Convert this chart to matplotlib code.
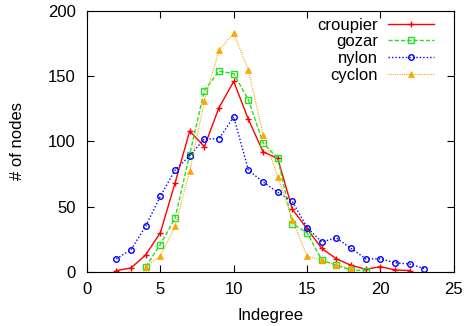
import matplotlib
matplotlib.use('Agg')
import matplotlib.pyplot as plt

plt.rcParams['font.family'] = ['Liberation Sans', 'DejaVu Sans']

# indegree distribution per system
croupier_x = [2, 3, 4, 5, 6, 7, 8, 9, 10, 11, 12, 13, 14, 15, 16, 17, 18, 19, 20, 21, 22]
croupier_y = [1, 3, 13, 30, 68, 108, 96, 126, 146, 117, 92, 87, 48, 33, 18, 10, 5, 2, 4, 1.5, 1]

gozar_x = [4, 5, 6, 7, 8, 9, 10, 11, 12, 13, 14, 15, 16, 17, 18, 19]
gozar_y = [4, 21, 41, 90, 139, 154, 152, 132, 99, 87, 37, 30, 9, 5, 1.5, 1]

nylon_x = [2, 3, 4, 5, 6, 7, 8, 9, 10, 11, 12, 13, 14, 15, 16, 17, 18, 19, 20, 21, 22, 23]
nylon_y = [10, 17, 35, 58, 78, 89, 102, 102, 119, 78, 69, 61, 54, 34, 23, 26, 18, 10, 10, 7, 6, 2.5]

cyclon_x = [4, 5, 6, 7, 8, 9, 10, 11, 12, 13, 14, 15, 16, 17, 18]
cyclon_y = [4, 12, 35, 77, 131, 170, 183, 155, 105, 73, 40, 12, 9, 5, 3]

fig = plt.figure(figsize=(4.65, 3.26), dpi=100)
ax = fig.add_axes([0.187, 0.166, 0.789, 0.8])

ax.plot(croupier_x, croupier_y, color='#ff0000', linestyle='-', linewidth=1.0,
        marker='+', markersize=5, markeredgewidth=1.0, label='croupier')
ax.plot(gozar_x, gozar_y, color='#22e022', linestyle=(0, (3, 1.5)), linewidth=1.0,
        marker='s', markersize=4, markerfacecolor='none', markeredgewidth=1.0, label='gozar')
ax.plot(nylon_x, nylon_y, color='#0000ff', linestyle=(0, (1, 1.5)), linewidth=1.0,
        marker='o', markersize=4, markerfacecolor='none', markeredgewidth=1.0, label='nylon')
ax.plot(cyclon_x, cyclon_y, color='#ffa500', linestyle=(0, (1, 1)), linewidth=0.8,
        marker='^', markersize=4.5, markeredgewidth=0.5, label='cyclon')

ax.set_xlim(0, 25)
ax.set_ylim(0, 200)
ax.set_xticks([0, 5, 10, 15, 20, 25])
ax.set_yticks([0, 50, 100, 150, 200])
ax.tick_params(direction='in', top=True, right=True, length=5, labelsize=12)
ax.tick_params(axis='x', pad=7)
ax.tick_params(axis='y', pad=8)
ax.set_xlabel('Indegree', fontsize=12)
ax.set_ylabel('# of nodes', fontsize=12)
ax.xaxis.set_label_coords(0.5, -0.138)
ax.yaxis.set_label_coords(-0.17, 0.5)

ax.legend(loc='upper right', bbox_to_anchor=(0.9455, 0.975), markerfirst=False,
          frameon=False, fontsize=12, handlelength=2.75, labelspacing=0.1,
          borderpad=0.0, borderaxespad=0.0, handletextpad=0.6)

fig.savefig('out.png', dpi=100)
